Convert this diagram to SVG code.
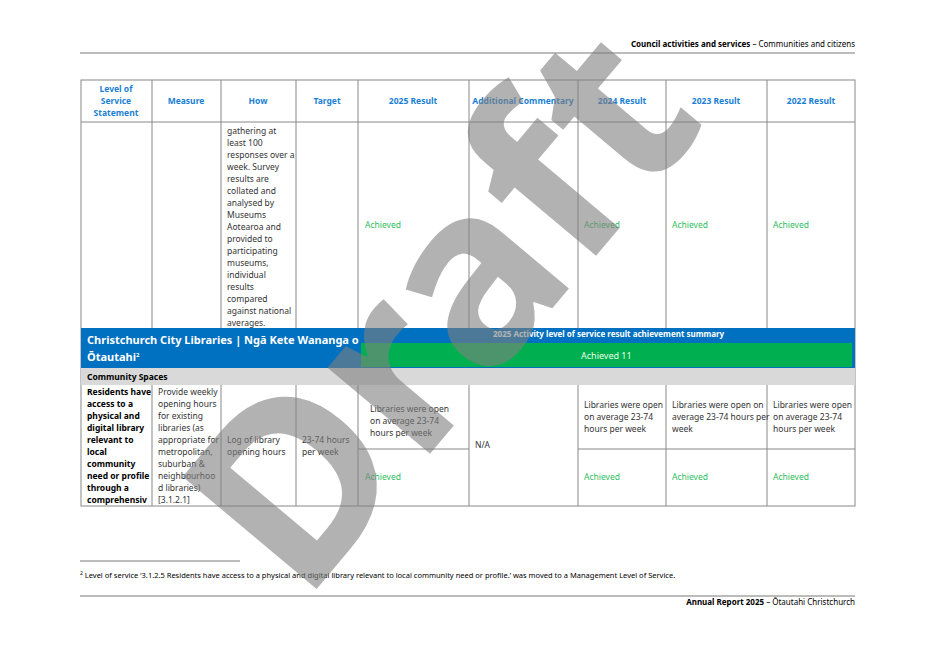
<svg xmlns="http://www.w3.org/2000/svg" width="934" height="661" viewBox="0 0 934 661">
<style>
text{font-family:"Noto Sans","Liberation Sans",sans-serif;font-size:8.5px;fill:#333}
.h{fill:#1a7fd4;font-weight:bold;text-anchor:middle}
.b{font-weight:bold;fill:#000}
.g{fill:#2ec060}
.c{fill:none;stroke:#888;stroke-width:1}
</style>
<rect width="934" height="661" fill="#fff"/>
<text x="855" y="47" text-anchor="end" style="font-size:8px;fill:#000"><tspan font-weight="bold">Council activities and services</tspan> – Communities and citizens</text>
<line x1="80" y1="53" x2="855" y2="53" stroke="#555" stroke-width="0.8"/>
<g id="table">
<rect x="81" y="80" width="774" height="426" class="c"/>
<line x1="81" y1="122" x2="855" y2="122" class="c"/>
<g class="c">
<path d="M152 80V328M221 80V328M296 80V328M358 80V328M469 80V328M578 80V328M666 80V328M767 80V328"/>
<path d="M152 385V506M221 385V506M296 385V506M358 385V506M469 385V506M578 385V506M666 385V506M767 385V506"/>
<path d="M358 449H469M578 449H855"/>
</g>
<text class="h" x="116" y="92">Level of</text><text class="h" x="116" y="104">Service</text><text class="h" x="116" y="116">Statement</text>
<text class="h" x="186" y="104">Measure</text><text class="h" x="258" y="104">How</text><text class="h" x="327" y="104">Target</text>
<text class="h" x="413" y="104">2025 Result</text><text class="h" x="523" y="104">Additional Commentary</text>
<text class="h" x="622" y="104">2024 Result</text><text class="h" x="716" y="104">2023 Result</text><text class="h" x="811" y="104">2022 Result</text>
<text x="227" y="134">gathering at</text><text x="227" y="146">least 100</text><text x="227" y="158">responses over a</text><text x="227" y="170">week. Survey</text><text x="227" y="182">results are</text><text x="227" y="194">collated and</text><text x="227" y="206">analysed by</text><text x="227" y="218">Museums</text><text x="227" y="230">Aotearoa and</text><text x="227" y="242">provided to</text><text x="227" y="254">participating</text><text x="227" y="266">museums,</text><text x="227" y="278">individual</text><text x="227" y="290">results</text><text x="227" y="302">compared</text><text x="227" y="314">against national</text><text x="227" y="326">averages.</text>
<text class="g" x="365" y="228">Achieved</text><text class="g" x="584" y="228">Achieved</text><text class="g" x="672" y="228">Achieved</text><text class="g" x="773" y="228">Achieved</text>
<rect x="81" y="328" width="774" height="40" fill="#0070c0"/>
<rect x="361" y="343" width="491" height="24" fill="#00b050"/>
<text x="87" y="344" style="font-size:11px;font-weight:bold;fill:#fff">Christchurch City Libraries | Ngā Kete Wananga o</text>
<text x="87" y="361" style="font-size:11px;font-weight:bold;fill:#fff">Ōtautahi<tspan style="font-size:6px" dy="-4">2</tspan></text>
<text x="493" y="337" style="font-size:8px;font-weight:bold;fill:#fff">2025 Activity level of service result achievement summary</text>
<text x="581" y="359" style="font-size:9px;fill:#e8ffe8">Achieved 11</text>
<rect x="81" y="368" width="774" height="17" fill="#d9d9d9"/>
<text class="b" x="87" y="380">Community Spaces</text>
<text class="b" x="87" y="395">Residents have</text><text class="b" x="87" y="407">access to a</text><text class="b" x="87" y="419">physical and</text><text class="b" x="87" y="431">digital library</text><text class="b" x="87" y="443">relevant to</text><text class="b" x="87" y="455">local</text><text class="b" x="87" y="467">community</text><text class="b" x="87" y="479">need or profile</text><text class="b" x="87" y="491">through a</text><text class="b" x="87" y="503">comprehensiv</text>
<text x="158" y="395">Provide weekly</text><text x="158" y="407">opening hours</text><text x="158" y="419">for existing</text><text x="158" y="431">libraries (as</text><text x="158" y="443">appropriate for</text><text x="158" y="455">metropolitan,</text><text x="158" y="467">suburban &amp;</text><text x="158" y="479">neighbourhoo</text><text x="158" y="491">d libraries)</text><text x="158" y="503">[3.1.2.1]</text>
<text x="227" y="443">Log of library</text><text x="227" y="455">opening hours</text>
<text x="302" y="443">23-74 hours</text><text x="302" y="455">per week</text>
<text x="370" y="412">Libraries were open</text><text x="370" y="424">on average 23-74</text><text x="370" y="436">hours per week</text>
<text x="475" y="448">N/A</text>
<text x="584" y="408">Libraries were open</text><text x="584" y="420">on average 23-74</text><text x="584" y="432">hours per week</text>
<text x="672" y="408">Libraries were open on</text><text x="672" y="420">average 23-74 hours per</text><text x="672" y="432">week</text>
<text x="773" y="408">Libraries were open</text><text x="773" y="420">on average 23-74</text><text x="773" y="432">hours per week</text>
<text class="g" x="365" y="480">Achieved</text><text class="g" x="584" y="480">Achieved</text><text class="g" x="672" y="480">Achieved</text><text class="g" x="773" y="480">Achieved</text>
</g>
<line x1="80" y1="561" x2="240" y2="561" stroke="#555" stroke-width="0.8"/>
<text x="80" y="578" style="font-size:7.5px;fill:#000"><tspan style="font-size:5px" dy="-3">2</tspan><tspan dy="3"> Level of service ‘3.1.2.5 Residents have access to a physical and digital library relevant to local community need or profile.’ was moved to a Management Level of Service.</tspan></text>
<line x1="80" y1="596" x2="855" y2="596" stroke="#555" stroke-width="0.8"/>
<text x="855" y="605" text-anchor="end" style="font-size:8px;fill:#000"><tspan font-weight="bold">Annual Report 2025</tspan> – Ōtautahi Christchurch</text>
<text x="0" y="0" transform="translate(455,320) rotate(-50)" text-anchor="middle" dominant-baseline="middle" style="font-family:'Noto Sans','Liberation Sans',sans-serif;font-size:245px;font-weight:bold;fill:#808080;opacity:0.6">Draft</text>
</svg>
